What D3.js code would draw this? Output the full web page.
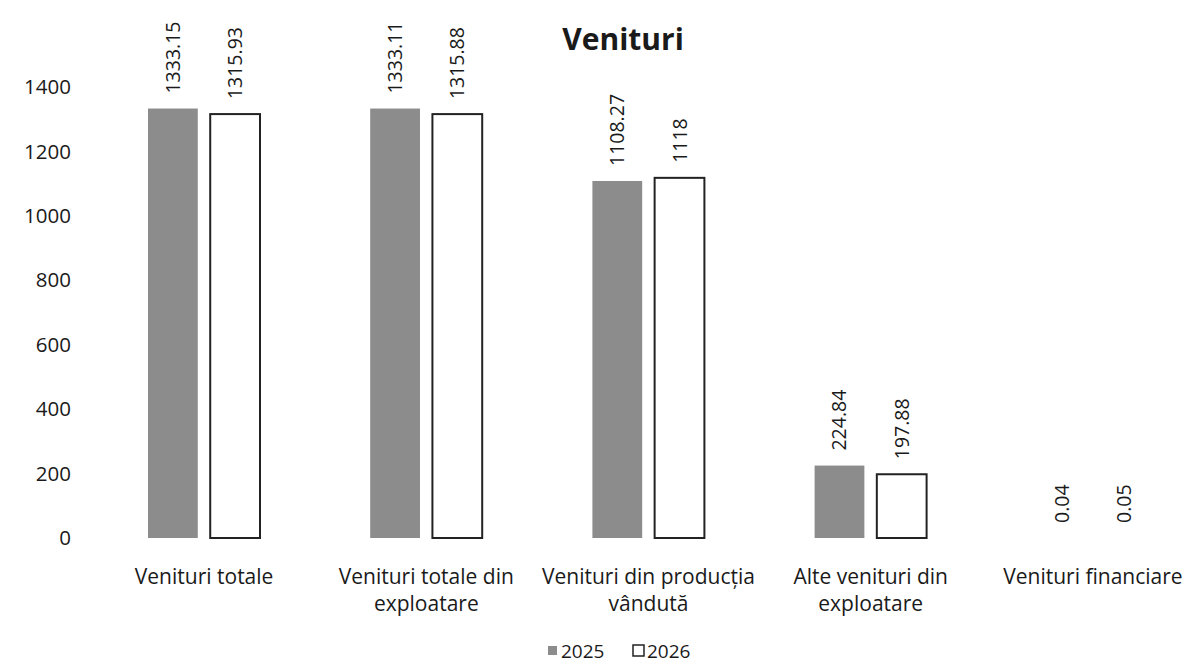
<!DOCTYPE html>
<html lang="ro">
<head>
    <meta charset="utf-8">
    <title>Venituri</title>
    <script src="https://d3js.org/d3.v7.min.js"></script>
    <style>
        body { margin: 0; background: #fff; }
        text { font-family: "Open Sans", sans-serif; fill: #1a1a1a; }
        .title { font-size: 30px; font-weight: bold; }
        .tick-label { font-size: 20.5px; }
        .cat-label { font-size: 21px; }
        .value-label { font-size: 19.5px; }
        .legend text { font-size: 19px; }
    </style>
</head>
<body>
<div id="chart"></div>
<script>

// data
const categories = ["Venituri totale", "Venituri totale din exploatare", "Venituri din producția vândută", "Alte venituri din exploatare", "Venituri financiare"];
const categoryLines = [["Venituri totale"], ["Venituri totale din", "exploatare"], ["Venituri din producția", "vândută"], ["Alte venituri din", "exploatare"], ["Venituri financiare"]];
const years = ["2025", "2026"];
const values2025 = [1333.15, 1333.11, 1108.27, 224.84, 0.04];
const values2026 = [1315.93, 1315.88, 1118, 197.88, 0.05];
const valueLabels2025 = ["1333.15", "1333.11", "1108.27", "224.84", "0.04"];
const valueLabels2026 = ["1315.93", "1315.88", "1118", "197.88", "0.05"];
const yTicks = [0, 200, 400, 600, 800, 1000, 1200, 1400];

const width = 1187, height = 663;

const svg = d3.select("#chart")
  .append("svg")
    .attr("width", width)
    .attr("height", height);

const x0 = d3.scaleBand()
    .domain(categories)
    .range([93, 1204])
    .paddingInner(0)
    .paddingOuter(0);

const x1 = d3.scaleBand()
    .domain(years)
    .range([55, 167])
    .paddingInner(0.2);

const y = d3.scaleLinear()
    .domain([0, 1400])
    .range([538, 87]);

const colors = {"2025": "#8c8c8c", "2026": "#ffffff"};

// title
svg.append("text")
    .attr("class", "title")
    .attr("x", 623)
    .attr("y", 50)
    .attr("text-anchor", "middle")
    .text("Venituri");

// y axis labels (no line)
svg.append("g").selectAll("text")
    .data(yTicks)
    .join("text")
      .attr("class", "tick-label")
      .attr("x", 71)
      .attr("y", d => y(d))
      .attr("dy", "0.35em")
      .attr("text-anchor", "end")
      .text(d => d);

// bars
const rows = categories.map((c, i) => ({
    cat: c,
    items: [
        {year: "2025", value: values2025[i], label: valueLabels2025[i]},
        {year: "2026", value: values2026[i], label: valueLabels2026[i]}
    ]
}));

const groups = svg.append("g").selectAll("g")
    .data(rows)
    .join("g")
      .attr("transform", d => `translate(${x0(d.cat)},0)`);

// very small bars are invisible in the original, so no outline for them
groups.selectAll("rect")
    .data(d => d.items)
    .join("rect")
      .attr("x", d => x1(d.year))
      .attr("y", d => y(d.value))
      .attr("width", x1.bandwidth())
      .attr("height", d => y(0) - y(d.value))
      .attr("fill", d => colors[d.year])
      .attr("stroke", d => (d.year === "2026" && y(0) - y(d.value) > 1) ? "#222" : "none")
      .attr("stroke-width", 2);

groups.selectAll("text.value-label")
    .data(d => d.items)
    .join("text")
      .attr("class", "value-label")
      .attr("transform", d => `translate(${x1(d.year) + x1.bandwidth() / 2 + 7},${y(d.value) - 15}) rotate(-90)`)
      .attr("text-anchor", "start")
      .text(d => d.label);

// category labels
const catLabels = svg.append("g").selectAll("text")
    .data(categories)
    .join("text")
      .attr("class", "cat-label")
      .attr("text-anchor", "middle")
      .attr("x", d => x0(d) + x0.bandwidth() / 2)
      .attr("y", 584);

catLabels.selectAll("tspan")
    .data((d, i) => categoryLines[i])
    .join("tspan")
      .attr("x", function() { return this.parentNode.getAttribute("x"); })
      .attr("dy", (d, i) => i === 0 ? 0 : 27)
      .text(d => d);

// legend
const legend = svg.append("g").attr("class", "legend");
legend.append("rect")
    .attr("x", 548).attr("y", 646)
    .attr("width", 9).attr("height", 9)
    .attr("fill", colors["2025"]);
legend.append("text")
    .attr("x", 561).attr("y", 658)
    .text(years[0]);
legend.append("rect")
    .attr("x", 633).attr("y", 645)
    .attr("width", 11).attr("height", 11)
    .attr("fill", "#fff")
    .attr("stroke", "#222").attr("stroke-width", 1.5);
legend.append("text")
    .attr("x", 647).attr("y", 658)
    .text(years[1]);

</script>
</body>
</html>
